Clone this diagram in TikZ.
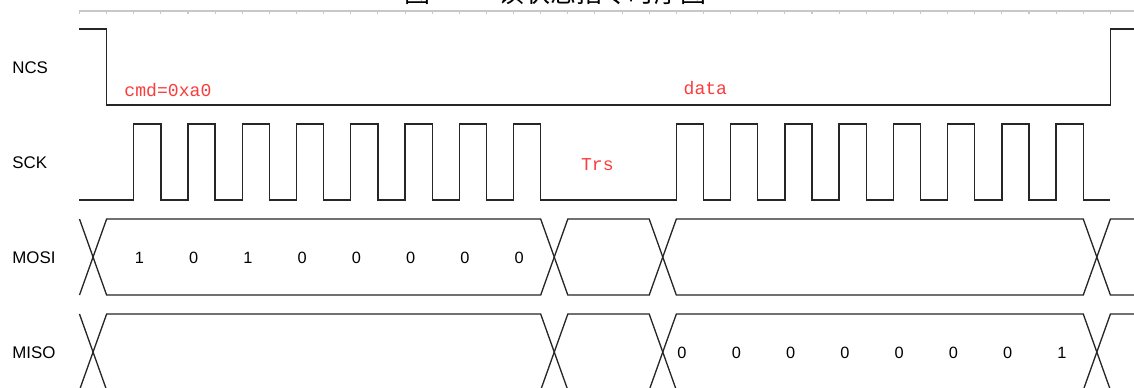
\documentclass[tikz,border=0pt]{standalone}
\usepackage{fontspec}
\setmainfont{Liberation Sans}
\newfontfamily\redmono{Liberation Mono}
\newfontfamily\cjkfont{Noto Sans CJK SC}
\definecolor{redtxt}{RGB}{250,60,60}
\definecolor{rulergray}{RGB}{200,200,200}
\begin{document}
\begin{tikzpicture}[x=0.5426cm, y=-0.02cm,
  sig/.style={line width=0.75pt, black!85, line join=miter},
  ruler/.style={line width=0.6pt, rulergray},
  siglabel/.style={font=\fontsize{9.6pt}{11pt}\selectfont, anchor=base west, inner sep=0pt},
  bit/.style={font=\fontsize{9.3pt}{11pt}\selectfont, anchor=base, inner sep=0pt},
  note/.style={font=\redmono\fontsize{10.3pt}{12pt}\selectfont, text=redtxt, anchor=base, inner sep=0pt},
  title/.style={font=\cjkfont\fontsize{14.8pt}{16pt}\selectfont, anchor=base west, inner sep=0pt}]
% canvas: x in clock ticks (px = 79.5 + 27.13 t), y in pixels
\useasboundingbox (-2.930,0) rectangle (38.87,387);
\clip (-2.930,0) rectangle (38.87,387);
\fill[white] (-2.930,0) rectangle (38.87,387);

% cut-off title
\node[title] (titleA) at (11.96,2) {图};
\node[title] (titleB) at (15.43,2) {读状态指令时序图};

% ruler
\draw[ruler] (0,11) -- (38.87,11);
\foreach \k in {0,...,38} \draw[ruler] (\k,11) -- (\k,14);

% signal names
\node[siglabel] (lncs)  at (-2.488,73)  {NCS};
\node[siglabel] (lsck)  at (-2.488,168.5) {SCK};
\node[siglabel] (lmosi) at (-2.488,263) {MOSI};
\node[siglabel] (lmiso) at (-2.488,358.5) {MISO};

% NCS
\draw[sig] (0,29) -- (1,29) -- (1,105) -- (38,105) -- (38,29) -- (39,29);

% SCK
\draw[sig] (0,200)
  \foreach \k in {0,...,7} { -- ({2+2*\k},200) -- ({2+2*\k},124) -- ({3+2*\k},124) -- ({3+2*\k},200) }
  \foreach \k in {0,...,7} { -- ({22+2*\k},200) -- ({22+2*\k},124) -- ({23+2*\k},124) -- ({23+2*\k},200) }
  -- (38,200);

% buses
\foreach \top/\bot in {219/295, 314/390} {
  \pgfmathsetmacro{\mid}{(\top+\bot)/2}
  \draw[sig] (0,\top) -- (0.5,\mid) -- (0,\bot);
  \foreach \a/\b in {0/17, 17/21, 21/37} {
    \draw[sig] ({\a+0.5},\mid) -- ({\a+1},\top) -- (\b,\top) -- ({\b+0.5},\mid)
               -- (\b,\bot) -- ({\a+1},\bot) -- cycle;
  }
  \draw[sig] (39,\top) -- (38,\top) -- (37.5,\mid) -- (38,\bot) -- (39,\bot);
}

% MOSI bits
\foreach \v [count=\i from 0] in {1,0,1,0,0,0,0,0}
  \node[bit] (mosi\i) at ({2.21+2*\i},263) {\v};
% MISO bits
\foreach \v [count=\i from 0] in {0,0,0,0,0,0,0,1}
  \node[bit] (miso\i) at ({22.21+2*\i},358.5) {\v};

% notes
\node[note] (cmd)  at (3.26,96.5) {cmd=0xa0};
\node[note] (data) at (23.07,94)  {data};
\node[note] (trs)  at (19.09,170) {Trs};
\end{tikzpicture}
\end{document}
